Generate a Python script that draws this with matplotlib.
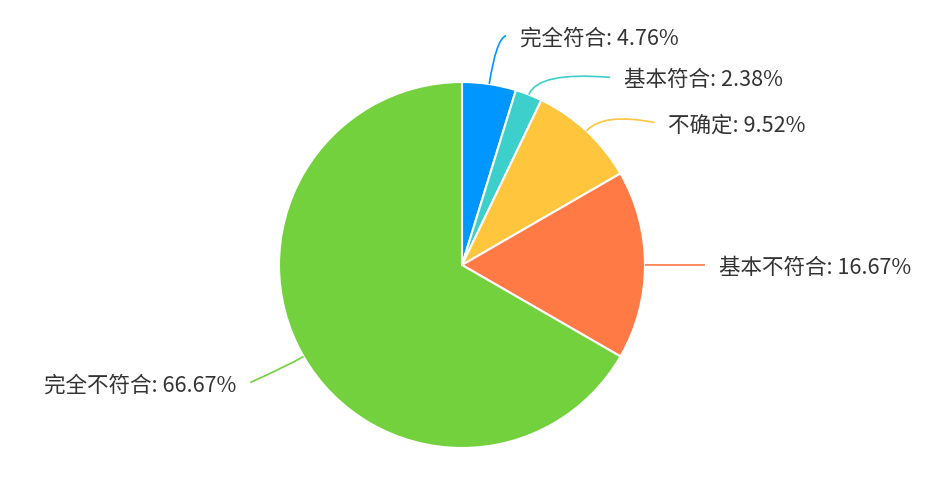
import numpy as np
import matplotlib
matplotlib.use("Agg")
from matplotlib import pyplot as plt
from matplotlib.path import Path
from matplotlib.patches import PathPatch

plt.rcParams['font.family'] = ['Noto Sans CJK SC', 'DejaVu Sans']

# Datos ---------------------------------------------------------------------------
categorias = ["完全符合", "基本符合", "不确定", "基本不符合", "完全不符合"]
porcentajes = [4.76, 2.38, 9.52, 16.67, 66.67]
colores = ["#0096ff", "#3ccfcb", "#ffc53d", "#ff7a45", "#73d13d"]

# Ajustes de las lineas guia (largo radial, desplazamiento x, desplazamiento y) ----
largo1 = [45, 25, 25, 15, 20]
dx = [10, 72, 51, 45, -36]
dy = [4, -6, -10, 0, -16]

W, H = 933, 482
cx, cy, r = 462, H - 265, 183

fig = plt.figure(figsize=(W / 100, H / 100), dpi=100)
ax = fig.add_axes([0, 0, 1, 1])

wedges, _ = ax.pie(porcentajes, colors=colores, startangle=90, counterclock=False,
                   center=(cx, cy), radius=r,
                   wedgeprops=dict(edgecolor='white', linewidth=1.5))
ax.set_xlim(0, W)
ax.set_ylim(0, H)
ax.set_aspect('equal')
ax.axis('off')

# Lineas guia y etiquetas ----------------------------------------------------------
for w, cat, p, col, l1, ddx, ddy in zip(wedges, categorias, porcentajes, colores, largo1, dx, dy):
    ang = np.deg2rad((w.theta1 + w.theta2) / 2)
    ax_, ay_ = cx + r * np.cos(ang), cy + r * np.sin(ang)
    bx, by = cx + (r + l1) * np.cos(ang), cy + (r + l1) * np.sin(ang)
    ex, ey = bx + ddx, by + ddy
    path = Path([(ax_, ay_), (bx, by), (ex, ey)], [Path.MOVETO, Path.CURVE3, Path.CURVE3])
    ax.add_patch(PathPatch(path, fill=False, edgecolor=col, linewidth=1.2))
    texto = f"{cat}: {p:.2f}%"
    if ddx >= 0:
        ax.text(ex + 14, ey - 3, texto, ha='left', va='center', fontsize=15.5, color='#333333')
    else:
        ax.text(ex - 14, ey - 3, texto, ha='right', va='center', fontsize=15.5, color='#333333')

plt.savefig('out.png', dpi=100)
